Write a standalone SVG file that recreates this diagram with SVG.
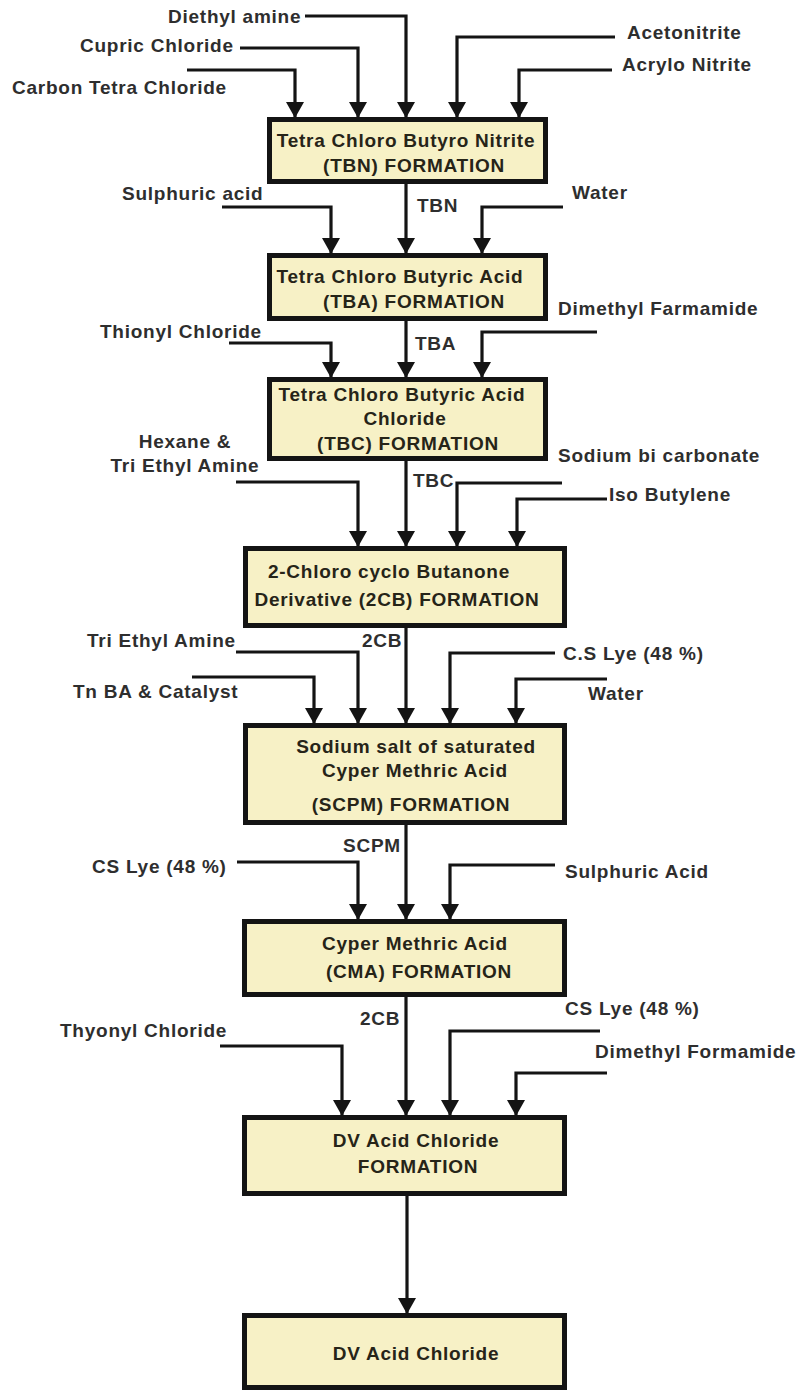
<svg xmlns="http://www.w3.org/2000/svg" width="800" height="1391" viewBox="0 0 800 1391">
<style>
text{font-family:"Liberation Sans",Arial,sans-serif;font-weight:bold;font-size:19px;letter-spacing:0.75px;fill:#2e2e2e}
.bt{text-anchor:middle;fill:#262418}
.box{fill:#f7f1c6;stroke:#141414;stroke-width:5}
.ln{fill:none;stroke:#141414;stroke-width:3.2;marker-end:url(#ah)}
</style>
<defs>
<marker id="ah" markerUnits="userSpaceOnUse" markerWidth="20" markerHeight="20" viewBox="0 0 20 20" refX="16" refY="10" orient="auto">
<path d="M0,1 L16,10 L0,19 Z" fill="#141414"/>
</marker>
</defs>
<rect width="800" height="1391" fill="#ffffff"/>

<g id="connectors">
<path class="ln" d="M305 16 H406 V118"/>
<path class="ln" d="M240 48 H358 V118"/>
<path class="ln" d="M187 70 H295 V118"/>
<path class="ln" d="M615 37 H457 V118"/>
<path class="ln" d="M612 70 H519 V118"/>
<path class="ln" d="M406 184 V254"/>
<path class="ln" d="M222 207 H331 V254"/>
<path class="ln" d="M563 207 H482 V254"/>
<path class="ln" d="M406 321 V378"/>
<path class="ln" d="M229 343 H331 V378"/>
<path class="ln" d="M597 332 H482 V378"/>
<path class="ln" d="M406 461 V547"/>
<path class="ln" d="M236 482 H358 V547"/>
<path class="ln" d="M562 483 H457 V547"/>
<path class="ln" d="M607 499 H517 V547"/>
<path class="ln" d="M406 628 V724"/>
<path class="ln" d="M236 652 H358 V724"/>
<path class="ln" d="M192 677 H314 V724"/>
<path class="ln" d="M555 653 H450 V724"/>
<path class="ln" d="M607 679 H516 V724"/>
<path class="ln" d="M406 825 V920"/>
<path class="ln" d="M237 862 H358 V920"/>
<path class="ln" d="M555 865 H450 V920"/>
<path class="ln" d="M406 997 V1116"/>
<path class="ln" d="M220 1046 H342 V1116"/>
<path class="ln" d="M600 1031 H450 V1116"/>
<path class="ln" d="M607 1073 H516 V1116"/>
<path class="ln" d="M407 1196 V1314"/>
</g>

<g id="labels">
<text x="168" y="23">Diethyl amine</text>
<text x="80" y="52">Cupric Chloride</text>
<text x="12" y="94">Carbon Tetra Chloride</text>
<text x="627" y="39">Acetonitrite</text>
<text x="622" y="71">Acrylo Nitrite</text>
<text x="417" y="212">TBN</text>
<text x="122" y="200">Sulphuric acid</text>
<text x="572" y="199">Water</text>
<text x="415" y="350">TBA</text>
<text x="100" y="338">Thionyl Chloride</text>
<text x="558" y="315">Dimethyl Farmamide</text>
<text x="185" y="448" style="text-anchor:middle">Hexane &amp;</text>
<text x="185" y="472" style="text-anchor:middle">Tri Ethyl Amine</text>
<text x="413" y="487">TBC</text>
<text x="558" y="462">Sodium bi carbonate</text>
<text x="609" y="501">Iso Butylene</text>
<text x="362" y="647">2CB</text>
<text x="87" y="647">Tri Ethyl Amine</text>
<text x="73" y="698">Tn BA &amp; Catalyst</text>
<text x="563" y="660">C.S Lye (48 %)</text>
<text x="588" y="700">Water</text>
<text x="343" y="852">SCPM</text>
<text x="92" y="873">CS Lye (48 %)</text>
<text x="565" y="878">Sulphuric Acid</text>
<text x="360" y="1025">2CB</text>
<text x="60" y="1037">Thyonyl Chloride</text>
<text x="565" y="1015">CS Lye (48 %)</text>
<text x="595" y="1058">Dimethyl Formamide</text>
</g>

<g id="tbn">
<rect class="box" x="269.5" y="119.5" width="276" height="62"/>
<text class="bt" x="406" y="147">Tetra Chloro Butyro Nitrite</text>
<text class="bt" x="414" y="172">(TBN) FORMATION</text>
</g>
<g id="tba">
<rect class="box" x="269.5" y="255.5" width="276" height="63"/>
<text class="bt" x="400" y="283">Tetra Chloro Butyric Acid</text>
<text class="bt" x="414" y="308">(TBA) FORMATION</text>
</g>
<g id="tbc">
<rect class="box" x="269.5" y="379.5" width="276" height="79"/>
<text class="bt" x="402" y="401">Tetra Chloro Butyric Acid</text>
<text class="bt" x="405" y="425">Chloride</text>
<text class="bt" x="408" y="450">(TBC) FORMATION</text>
</g>
<g id="cb2">
<rect class="box" x="245.5" y="548.5" width="319" height="77"/>
<text class="bt" x="389" y="578">2-Chloro cyclo Butanone</text>
<text class="bt" x="397" y="606">Derivative (2CB) FORMATION</text>
</g>
<g id="scpm">
<rect class="box" x="245.5" y="725.5" width="319" height="97"/>
<text class="bt" x="416" y="753">Sodium salt of saturated</text>
<text class="bt" x="415" y="777">Cyper Methric Acid</text>
<text class="bt" x="411" y="811">(SCPM) FORMATION</text>
</g>
<g id="cma">
<rect class="box" x="244.5" y="921.5" width="320" height="73"/>
<text class="bt" x="415" y="950">Cyper Methric Acid</text>
<text class="bt" x="419" y="978">(CMA) FORMATION</text>
</g>
<g id="dvf">
<rect class="box" x="244.5" y="1117.5" width="320" height="76"/>
<text class="bt" x="416" y="1147">DV Acid Chloride</text>
<text class="bt" x="418" y="1173">FORMATION</text>
</g>
<g id="dv">
<rect class="box" x="244.5" y="1315.5" width="320" height="72"/>
<text class="bt" x="416" y="1360">DV Acid Chloride</text>
</g>
</svg>
